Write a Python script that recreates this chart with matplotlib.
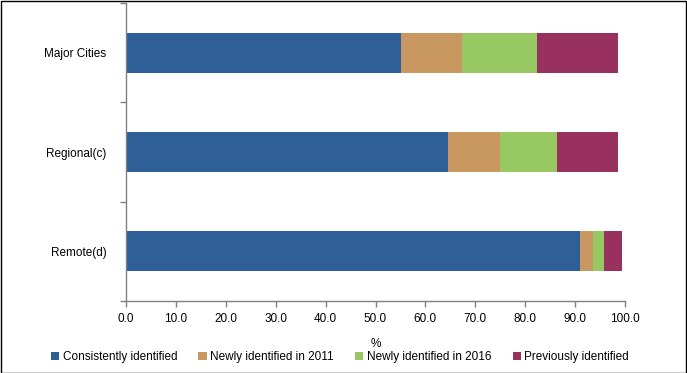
import matplotlib
matplotlib.use("Agg")
import matplotlib.pyplot as plt
from matplotlib.patches import Rectangle
import numpy as np

categories = ["Major Cities", "Regional(c)", "Remote(d)"]
series_names = ["Consistently identified", "Newly identified in 2011",
                "Newly identified in 2016", "Previously identified"]
consistently = [55.1, 64.5, 91.0]
newly_2011 = [12.2, 10.4, 2.6]
newly_2016 = [15.1, 11.5, 2.2]
previously = [16.1, 12.2, 3.6]
colors = ["#2E5F96", "#C99760", "#98C862", "#99315E"]
xticks = np.arange(0, 101, 10)

plt.rcParams['font.family'] = ['Liberation Sans', 'DejaVu Sans']

W, H = 687, 373
fig = plt.figure(figsize=(W / 100, H / 100), dpi=100)
ax = fig.add_axes([126 / W, 1 - 301 / H, (625 - 126) / W, (301 - 3) / H])

values = [consistently, newly_2011, newly_2016, previously]
y = np.arange(len(categories))
left = np.zeros(len(categories))
for name, vals, c in zip(series_names, values, colors):
    ax.barh(y, vals, left=left, height=0.4, color=c, label=name)
    left += np.array(vals)

ax.set_ylim(len(categories) - 0.5, -0.5)
ax.set_xlim(0, 100)
ax.set_yticks(y)
ax.set_yticklabels(categories, fontsize=8.5)
ax.set_yticks([-0.5, 0.5, 1.5, 2.5], minor=True)
ax.tick_params(axis='y', which='major', length=0, pad=14)
ax.tick_params(axis='y', which='minor', length=4, color='#808080', width=1)
ax.set_xticks(xticks)
ax.set_xticklabels([f"{v:.1f}" for v in xticks], fontsize=8.5)
ax.tick_params(axis='x', length=4, color='#808080', width=1, pad=5)
ax.set_xlabel("%", fontsize=8.5, labelpad=9)
for s in ['top', 'right']:
    ax.spines[s].set_visible(False)
for s in ['left', 'bottom']:
    ax.spines[s].set_color('#808080')
    ax.spines[s].set_linewidth(1)

fig.legend(loc='center', bbox_to_anchor=(340 / W, 1 - 357 / H), ncol=4,
           frameon=False, fontsize=8.5, handlelength=0.7, handleheight=0.7,
           handletextpad=0.3, columnspacing=1.8)

fig.patches.append(Rectangle((0.5 / W, 0.5 / H), 1 - 1.5 / W, 1 - 1.5 / H,
                             transform=fig.transFigure, fill=False,
                             edgecolor='black', linewidth=1))
fig.savefig("out.png", dpi=100)
